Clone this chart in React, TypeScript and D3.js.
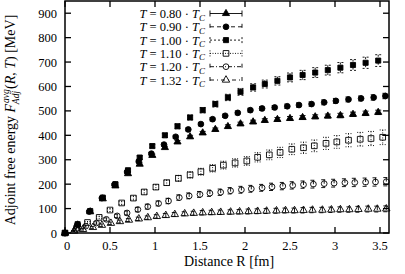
import * as d3 from "d3";

// temperatures T/T_C
const temps = ["0.80", "0.90", "1.00", "1.10", "1.20", "1.32"];

// distances R [fm] per series
const r080 = [0, 0.14, 0.28, 0.42, 0.56, 0.70, 0.83, 0.97, 1.11, 1.25, 1.39, 1.53, 1.67, 1.81, 1.95, 2.09, 2.22, 2.36, 2.50, 2.64, 2.78, 2.92, 3.06, 3.20, 3.34, 3.48];
const r090 = [0, 0.14, 0.27, 0.41, 0.55, 0.69, 0.82, 0.96, 1.10, 1.23, 1.37, 1.51, 1.64, 1.78, 1.92, 2.06, 2.19, 2.33, 2.47, 2.60, 2.74, 2.88, 3.01, 3.15, 3.29, 3.43, 3.56];
const r100 = [0, 0.14, 0.28, 0.42, 0.56, 0.70, 0.83, 0.97, 1.11, 1.25, 1.39, 1.53, 1.67, 1.81, 1.95, 2.09, 2.22, 2.36, 2.50, 2.64, 2.78, 2.92, 3.06, 3.20, 3.34, 3.48];
const r110 = [0, 0.13, 0.25, 0.38, 0.50, 0.63, 0.76, 0.88, 1.01, 1.13, 1.26, 1.39, 1.51, 1.64, 1.76, 1.89, 2.02, 2.14, 2.27, 2.39, 2.52, 2.65, 2.77, 2.90, 3.02, 3.15, 3.28, 3.40, 3.53];
const r120 = [0, 0.12, 0.23, 0.35, 0.46, 0.58, 0.69, 0.81, 0.92, 1.04, 1.15, 1.27, 1.38, 1.50, 1.61, 1.73, 1.84, 1.96, 2.07, 2.19, 2.30, 2.42, 2.53, 2.65, 2.76, 2.88, 2.99, 3.11, 3.22, 3.34, 3.45, 3.57];
const r132 = [0, 0.10, 0.20, 0.31, 0.41, 0.51, 0.61, 0.71, 0.82, 0.92, 1.02, 1.12, 1.22, 1.33, 1.43, 1.53, 1.63, 1.73, 1.84, 1.94, 2.04, 2.14, 2.24, 2.35, 2.45, 2.55, 2.65, 2.75, 2.86, 2.96, 3.06, 3.16, 3.26, 3.37, 3.47, 3.57];

// free energy [MeV]
const f080 = [0, 33, 87, 140, 193, 243, 282, 318, 350, 373, 394, 410, 424, 436, 447, 455, 461, 465, 469, 473, 476, 479, 481, 486, 490, 494];
const f090 = [0, 34, 88, 143, 198, 250, 293, 325, 362, 394, 424, 446, 466, 480, 492, 503, 510, 514, 519, 524, 528, 535, 541, 547, 551, 555, 561];
const f100 = [0, 36, 90, 145, 200, 257, 309, 356, 400, 437, 473, 503, 528, 555, 578, 596, 610, 623, 637, 647, 657, 667, 677, 688, 697, 706];
const f110 = [0, 20, 43, 64, 94, 123, 143, 168, 188, 206, 224, 238, 251, 265, 278, 287, 295, 310, 320, 330, 343, 349, 357, 367, 373, 380, 384, 387, 392];
const f120 = [0, 15, 28, 41, 56, 70, 82, 96, 108, 121, 131, 145, 152, 158, 163, 167, 173, 177, 181, 185, 189, 192, 195, 198, 200, 202, 204, 206, 207, 208, 209, 210];
const f132 = [0, 8, 15, 23, 32, 40, 47, 53, 58, 63, 68, 72, 76, 79, 81, 83, 84, 85, 86, 87, 88, 89, 90, 91, 92, 92, 93, 94, 94, 95, 96, 96, 97, 98, 98, 99];

// errors [MeV]
const e080 = [0, 2, 3, 3, 4, 4, 5, 5, 5, 6, 6, 6, 6, 7, 7, 7, 7, 8, 8, 8, 8, 8, 9, 9, 9, 9];
const e090 = [0, 2, 3, 3, 4, 4, 5, 5, 6, 6, 6, 7, 7, 7, 8, 8, 8, 8, 9, 9, 9, 10, 10, 10, 10, 11, 11];
const e100 = [0, 2, 3, 4, 5, 6, 7, 8, 9, 10, 10, 11, 12, 13, 14, 15, 16, 17, 18, 19, 20, 20, 21, 22, 23, 24];
const e110 = [0, 3, 4, 5, 6, 7, 8, 9, 10, 11, 12, 13, 14, 15, 16, 17, 18, 19, 20, 21, 22, 23, 24, 25, 26, 27, 28, 29, 30];
const e120 = [0, 3, 4, 5, 6, 7, 8, 9, 10, 10, 11, 11, 12, 12, 13, 13, 13, 14, 14, 14, 15, 15, 15, 15, 16, 16, 16, 16, 17, 17, 17, 17];
const e132 = [0, 2, 3, 4, 5, 5, 6, 6, 7, 7, 7, 8, 8, 8, 8, 9, 9, 9, 9, 9, 10, 10, 10, 10, 10, 10, 11, 11, 11, 11, 11, 11, 12, 12, 12, 12];

const xTicks = [0, 0.5, 1, 1.5, 2, 2.5, 3, 3.5];
const yTicks = [0, 100, 200, 300, 400, 500, 600, 700, 800, 900];

const series = [
  { t: temps[0], r: r080, f: f080, e: e080, sym: d3.symbolTriangle, size: 22, open: false, dash: "none" },
  { t: temps[1], r: r090, f: f090, e: e090, sym: d3.symbolCircle, size: 26, open: false, dash: "4,3" },
  { t: temps[2], r: r100, f: f100, e: e100, sym: d3.symbolSquare, size: 26, open: false, dash: "2,2" },
  { t: temps[3], r: r110, f: f110, e: e110, sym: d3.symbolSquare, size: 32, open: true, dash: "1,1.5" },
  { t: temps[4], r: r120, f: f120, e: e120, sym: d3.symbolCircle, size: 26, open: true, dash: "4,2,1,2" },
  { t: temps[5], r: r132, f: f132, e: e132, sym: d3.symbolTriangle, size: 24, open: true, dash: "4,3,1,3" },
];

const W = 405, H = 274;
const left = 65, right = 389, top = 1, bottom = 233;
const font = "'Liberation Serif', 'DejaVu Serif', serif";

export default function App() {
  const x = d3.scaleLinear().domain([0, 3.6]).range([left, right]);
  const y = d3.scaleLinear().domain([0, 950]).range([bottom, top]);
  const tick = 6;

  const marker = (s, cx, cy, k) => (
    <path key={k} d={d3.symbol().type(s.sym).size(s.size)() || ""}
      transform={`translate(${cx},${cy})`}
      fill={s.open ? "none" : "#000"} stroke="#000" strokeWidth={0.9} />
  );

  return (
    <svg width={W} height={H} style={{ position: "absolute", left: 0, top: 0, fontFamily: font }}>
      <rect width={W} height={H} fill="#fff" />

      {/* ticks */}
      {xTicks.map(t => (
        <g key={"x" + t}>
          <line x1={x(t)} x2={x(t)} y1={bottom} y2={bottom - tick} stroke="#000" strokeWidth={1.3} />
          <line x1={x(t)} x2={x(t)} y1={top} y2={top + tick} stroke="#000" strokeWidth={1.3} />
          <text x={x(t) + (t === 0 ? 2 : 0)} y={bottom + 17} textAnchor="middle" fontSize={12.5}>{t}</text>
        </g>
      ))}
      {yTicks.map(t => (
        <g key={"y" + t}>
          <line x1={left} x2={left + tick} y1={y(t)} y2={y(t)} stroke="#000" strokeWidth={1.3} />
          <line x1={right} x2={right - tick} y1={y(t)} y2={y(t)} stroke="#000" strokeWidth={1.3} />
          <text x={left - 8} y={y(t) + 4.5} textAnchor="end" fontSize={12.5}>{t}</text>
        </g>
      ))}

      {/* data */}
      <g>
        {series.map((s, si) => (
          <g key={s.t}>
            {s.r.map((r, i) => {
              const cx = x(r), cy = y(s.f[i]);
              const y1 = y(s.f[i] + s.e[i]), y2 = y(s.f[i] - s.e[i]);
              return (
                <g key={i} stroke="#000" strokeWidth={0.9} strokeDasharray={s.dash}>
                  <line x1={cx} x2={cx} y1={y1} y2={y2} />
                  <line x1={cx - 3} x2={cx + 3} y1={y1} y2={y1} />
                  <line x1={cx - 3} x2={cx + 3} y1={y2} y2={y2} />
                </g>
              );
            })}
            {s.r.map((r, i) => marker(s, x(r), y(s.f[i]), "m" + si + "-" + i))}
          </g>
        ))}
      </g>

      {/* legend */}
      {series.map((s, i) => {
        const ly = 13.5 + i * 13.3;
        return (
          <g key={"lg" + s.t}>
            <text x={205} y={ly + 4.5} textAnchor="end" fontSize={12.5}>
              <tspan fontStyle="italic">T</tspan> = {s.t} · <tspan fontStyle="italic">T</tspan>
              <tspan fontStyle="italic" fontSize={9} dy={2.5}>C</tspan>
            </text>
            <g stroke="#000" strokeWidth={0.9} strokeDasharray={s.dash}>
              <line x1={210} x2={242} y1={ly} y2={ly} />
              <line x1={210} x2={210} y1={ly - 3} y2={ly + 3} />
              <line x1={242} x2={242} y1={ly - 3} y2={ly + 3} />
            </g>
            {marker(s, 226, ly, "lm" + i)}
          </g>
        );
      })}

      {/* frame */}
      <rect x={left} y={top} width={right - left} height={bottom - top} fill="none" stroke="#000" strokeWidth={1.5} />

      {/* labels */}
      <text x={(left + right) / 2 + 2} y={266} textAnchor="middle" fontSize={14}>Distance R [fm]</text>
      <text transform={`translate(15,${(top + bottom) / 2 + 3}) rotate(-90)`} textAnchor="middle" fontSize={14}>
        Adjoint free energy <tspan fontStyle="italic">F</tspan>
        <tspan fontStyle="italic" fontSize={9.5} dx={1} dy={-6}>avg</tspan>
        <tspan fontStyle="italic" fontSize={9.5} dx={-15} dy={10}>Adj</tspan>
        <tspan dx={2} dy={-4}>(</tspan><tspan fontStyle="italic">R, T</tspan>) [MeV]
      </text>
    </svg>
  );
}
